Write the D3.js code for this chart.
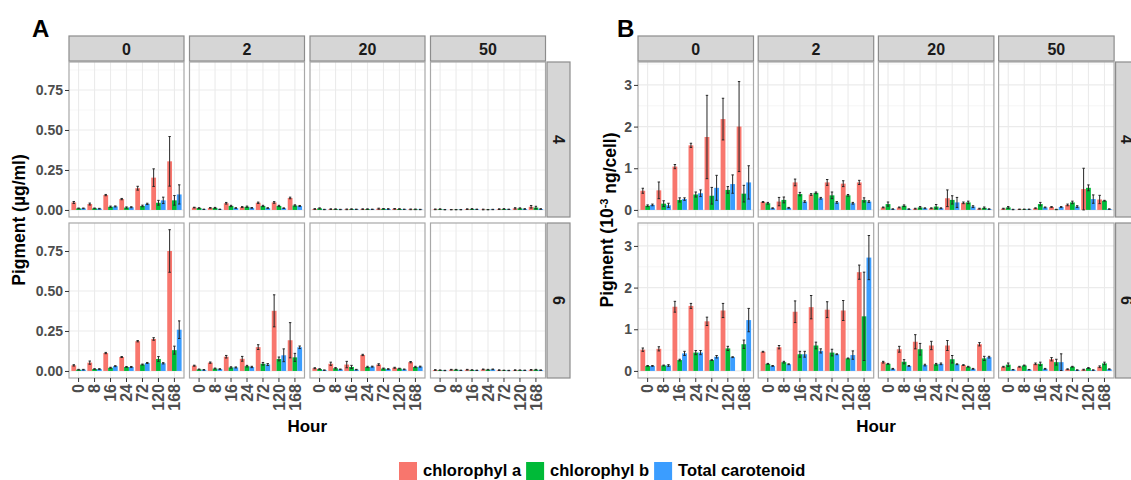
<!DOCTYPE html>
<html>
<head>
<meta charset="utf-8">
<script src="https://cdn.jsdelivr.net/npm/d3@7"></script>
<style>
  body { margin: 0; background: #fff; }
  svg { font-family: "Liberation Sans", Arial, sans-serif; }
</style>
</head>
<body>
<svg id="chart" width="1131" height="480"></svg>
<script>
// categories
const hours = ["0", "8", "16", "24", "72", "120", "168"];
const doses = ["0", "2", "20", "50"];
const rowLabels = ["4", "6"];
const pigments = ["chlorophyl a", "chlorophyl b", "Total carotenoid"];
const pigmentColors = ["#F8766D", "#00BA38", "#3B9DFF"];

// tick labels
const ticksA = [0, 0.25, 0.5, 0.75];
const ticksB = [0, 1, 2, 3];

// Panel A (ug/ml): one inner array per dose column, one value per hour
const aChlA_4 = [
  [0.047, 0.037, 0.093, 0.068, 0.136, 0.202, 0.304],
  [0.015, 0.013, 0.042, 0.018, 0.045, 0.047, 0.075],
  [0.006, 0.005, 0.004, 0.005, 0.008, 0.007, 0.004],
  [0.004, 0.002, 0.005, 0.003, 0.005, 0.010, 0.020]];
const aChlAErr_4 = [
  [0.006, 0.006, 0.004, 0.004, 0.012, 0.055, 0.155],
  [0.002, 0.002, 0.005, 0.003, 0.004, 0.005, 0.005],
  [0.002, 0.002, 0.002, 0.002, 0.003, 0.002, 0.002],
  [0.002, 0.001, 0.002, 0.002, 0.002, 0.004, 0.008]];
const aChlB_4 = [
  [0.010, 0.010, 0.020, 0.015, 0.025, 0.045, 0.060],
  [0.012, 0.013, 0.025, 0.020, 0.025, 0.025, 0.028],
  [0.010, 0.005, 0.005, 0.005, 0.007, 0.006, 0.004],
  [0.005, 0.002, 0.006, 0.002, 0.006, 0.010, 0.015]];
const aChlBErr_4 = [
  [0.002, 0.002, 0.004, 0.004, 0.005, 0.015, 0.030],
  [0.002, 0.003, 0.004, 0.004, 0.004, 0.004, 0.004],
  [0.003, 0.002, 0.002, 0.002, 0.002, 0.002, 0.002],
  [0.002, 0.001, 0.002, 0.001, 0.002, 0.003, 0.008]];
const aCar_4 = [
  [0.010, 0.008, 0.022, 0.017, 0.038, 0.060, 0.097],
  [0.004, 0.004, 0.012, 0.013, 0.012, 0.011, 0.025],
  [0.003, 0.003, 0.004, 0.004, 0.006, 0.004, 0.003],
  [0.002, 0.002, 0.004, 0.003, 0.004, 0.006, 0.006]];
const aCarErr_4 = [
  [0.002, 0.002, 0.003, 0.003, 0.004, 0.020, 0.060],
  [0.001, 0.001, 0.002, 0.002, 0.002, 0.002, 0.003],
  [0.001, 0.001, 0.001, 0.001, 0.002, 0.001, 0.001],
  [0.001, 0.001, 0.001, 0.001, 0.001, 0.002, 0.002]];

const aChlA_6 = [
  [0.035, 0.052, 0.112, 0.087, 0.186, 0.200, 0.750],
  [0.033, 0.052, 0.089, 0.076, 0.149, 0.376, 0.192],
  [0.017, 0.045, 0.040, 0.100, 0.040, 0.020, 0.055],
  [0.006, 0.008, 0.008, 0.010, 0.005, 0.005, 0.007]];
const aChlAErr_6 = [
  [0.004, 0.010, 0.004, 0.003, 0.004, 0.008, 0.133],
  [0.003, 0.004, 0.008, 0.015, 0.015, 0.100, 0.110],
  [0.003, 0.010, 0.020, 0.004, 0.005, 0.003, 0.004],
  [0.002, 0.002, 0.002, 0.002, 0.002, 0.002, 0.002]];
const aChlB_6 = [
  [0.008, 0.012, 0.020, 0.025, 0.040, 0.075, 0.130],
  [0.010, 0.015, 0.022, 0.030, 0.045, 0.075, 0.085],
  [0.012, 0.017, 0.025, 0.025, 0.015, 0.015, 0.025],
  [0.005, 0.008, 0.006, 0.008, 0.004, 0.005, 0.008]];
const aChlBErr_6 = [
  [0.002, 0.002, 0.003, 0.003, 0.003, 0.015, 0.025],
  [0.002, 0.003, 0.004, 0.005, 0.008, 0.012, 0.025],
  [0.002, 0.004, 0.010, 0.004, 0.003, 0.002, 0.004],
  [0.001, 0.002, 0.001, 0.002, 0.001, 0.001, 0.002]];
const aCar_6 = [
  [0.008, 0.012, 0.030, 0.025, 0.050, 0.048, 0.258],
  [0.007, 0.012, 0.022, 0.025, 0.040, 0.098, 0.148],
  [0.005, 0.010, 0.008, 0.027, 0.012, 0.010, 0.027],
  [0.003, 0.004, 0.004, 0.010, 0.003, 0.004, 0.005]];
const aCarErr_6 = [
  [0.002, 0.002, 0.003, 0.003, 0.003, 0.004, 0.055],
  [0.002, 0.002, 0.003, 0.004, 0.006, 0.040, 0.008],
  [0.001, 0.002, 0.002, 0.003, 0.002, 0.002, 0.003],
  [0.001, 0.001, 0.001, 0.002, 0.001, 0.001, 0.001]];

// Panel B (10^-3 ng/cell)
const bChlA_4 = [
  [0.46, 0.47, 1.04, 1.55, 1.75, 2.18, 2.00],
  [0.19, 0.20, 0.66, 0.37, 0.66, 0.63, 0.66],
  [0.06, 0.06, 0.03, 0.04, 0.28, 0.17, 0.03],
  [0.03, 0.015, 0.04, 0.07, 0.12, 0.50, 0.25]];
const bChlAErr_4 = [
  [0.06, 0.20, 0.05, 0.05, 1.00, 0.50, 1.08],
  [0.01, 0.10, 0.08, 0.02, 0.07, 0.07, 0.05],
  [0.01, 0.01, 0.01, 0.01, 0.20, 0.02, 0.01],
  [0.01, 0.005, 0.01, 0.01, 0.02, 0.50, 0.10]];
const bChlB_4 = [
  [0.10, 0.15, 0.24, 0.37, 0.34, 0.48, 0.39],
  [0.16, 0.24, 0.38, 0.41, 0.35, 0.35, 0.24],
  [0.14, 0.10, 0.06, 0.08, 0.24, 0.18, 0.05],
  [0.06, 0.015, 0.14, 0.01, 0.18, 0.53, 0.22]];
const bChlBErr_4 = [
  [0.02, 0.07, 0.05, 0.06, 0.20, 0.08, 0.20],
  [0.02, 0.07, 0.04, 0.02, 0.08, 0.02, 0.05],
  [0.05, 0.02, 0.02, 0.05, 0.10, 0.03, 0.02],
  [0.02, 0.005, 0.04, 0.005, 0.03, 0.07, 0.01]];
const bCar_4 = [
  [0.12, 0.11, 0.26, 0.40, 0.53, 0.62, 0.66],
  [0.04, 0.05, 0.20, 0.28, 0.18, 0.16, 0.20],
  [0.02, 0.02, 0.04, 0.04, 0.18, 0.08, 0.02],
  [0.01, 0.015, 0.06, 0.07, 0.08, 0.26, 0.02]];
const bCarErr_4 = [
  [0.02, 0.05, 0.03, 0.08, 0.30, 0.22, 0.40],
  [0.01, 0.01, 0.02, 0.02, 0.02, 0.02, 0.02],
  [0.005, 0.005, 0.01, 0.01, 0.12, 0.02, 0.005],
  [0.005, 0.005, 0.01, 0.01, 0.02, 0.10, 0.005]];

const bChlA_6 = [
  [0.51, 0.53, 1.54, 1.56, 1.19, 1.45, null],
  [0.46, 0.57, 1.42, 1.53, 1.47, 1.45, 2.37],
  [0.21, 0.52, 0.70, 0.61, 0.61, 0.14, 0.64],
  [0.10, 0.10, 0.17, 0.28, 0.04, 0.03, 0.10]];
const bChlAErr_6 = [
  [0.04, 0.05, 0.13, 0.06, 0.10, 0.17, null],
  [0.01, 0.04, 0.26, 0.28, 0.19, 0.24, 0.17],
  [0.02, 0.07, 0.17, 0.10, 0.12, 0.01, 0.04],
  [0.01, 0.01, 0.02, 0.04, 0.01, 0.01, 0.02]];
const bChlB_6 = [
  [0.12, 0.13, 0.26, 0.44, 0.26, 0.54, 0.64],
  [0.17, 0.21, 0.40, 0.61, 0.44, 0.30, 1.31],
  [0.17, 0.22, 0.52, 0.16, 0.28, 0.10, 0.30],
  [0.15, 0.13, 0.17, 0.21, 0.10, 0.07, 0.18]];
const bChlBErr_6 = [
  [0.01, 0.01, 0.02, 0.05, 0.01, 0.05, 0.10],
  [0.01, 0.02, 0.07, 0.08, 0.08, 0.01, 1.06],
  [0.01, 0.05, 0.14, 0.02, 0.09, 0.01, 0.05],
  [0.04, 0.01, 0.04, 0.07, 0.01, 0.01, 0.03]];
const bCar_6 = [
  [0.12, 0.13, 0.42, 0.44, 0.34, 0.33, 1.22],
  [0.12, 0.16, 0.40, 0.48, 0.40, 0.38, 2.72],
  [0.05, 0.12, 0.14, 0.17, 0.16, 0.05, 0.33],
  [0.03, 0.03, 0.05, 0.21, 0.02, 0.02, 0.04]];
const bCarErr_6 = [
  [0.01, 0.02, 0.05, 0.05, 0.03, 0.01, 0.28],
  [0.01, 0.01, 0.07, 0.05, 0.01, 0.10, 0.53],
  [0.01, 0.01, 0.02, 0.02, 0.01, 0.01, 0.02],
  [0.005, 0.005, 0.01, 0.20, 0.005, 0.005, 0.01]];

var svg = d3.select("#chart");

// shared layout
var rowTop = 62, rowH = 155, rowGap = 6;
var stripTop = 36, stripH = 25, sideStripW = 23;
var tickGray = "#4D4D4D";

// turn the arrays of one row into flat records
function records(vals, errs) {
  var out = [];
  doses.forEach(function(dose, c) {
    hours.forEach(function(h, i) {
      pigments.forEach(function(p, k) {
        var v = vals[k][c][i];
        if (v == null) return;
        out.push({dose: dose, hour: h, pigment: p, k: k, v: v, e: errs[k][c][i]});
      });
    });
  });
  return out;
}

function drawPanel(cfg) {
  var g = svg.append("g");

  // panel letter
  g.append("text").attr("x", cfg.letterX).attr("y", 37)
    .style("font-size", "24px").style("font-weight", "bold").text(cfg.letter);

  var colX = d3.scaleBand().domain(doses)
    .range([cfg.left, cfg.left + 4 * cfg.colW + 3 * cfg.gap])
    .paddingInner(cfg.gap / (cfg.colW + cfg.gap));

  cfg.rows.forEach(function(row, r) {
    var top = rowTop + r * (rowH + rowGap);
    var y = d3.scaleLinear().domain(cfg.yDomain).range([top + rowH, top]);
    var minorY = d3.range(cfg.ticks.length).map(function(i) { return cfg.ticks[i] + cfg.tickStep / 2; })
      .filter(function(t) { return t < cfg.yDomain[1]; });
    var data = records(row.vals, row.errs);

    doses.forEach(function(dose, c) {
      var x0 = colX(dose);
      var x = d3.scaleBand().domain(hours).range([x0, x0 + colX.bandwidth()])
        .paddingInner(0).paddingOuter(0.1);
      var xSub = d3.scaleBand().domain(pigments)
        .range([x.bandwidth() * 0.05, x.bandwidth() * 0.95]);
      var f = g.append("g");

      f.append("rect").attr("x", x0).attr("y", top).attr("width", colX.bandwidth()).attr("height", rowH)
        .attr("fill", "#fff");

      // grid
      f.selectAll(".ymin").data(minorY).enter().append("line")
        .attr("x1", x0).attr("x2", x0 + colX.bandwidth())
        .attr("y1", function(d) { return y(d); }).attr("y2", function(d) { return y(d); })
        .attr("stroke", "#F2F2F2").attr("stroke-width", 0.7);
      f.selectAll(".ymaj").data(cfg.ticks).enter().append("line")
        .attr("x1", x0).attr("x2", x0 + colX.bandwidth())
        .attr("y1", function(d) { return y(d); }).attr("y2", function(d) { return y(d); })
        .attr("stroke", "#EBEBEB").attr("stroke-width", 1.1);
      f.selectAll(".xmaj").data(hours).enter().append("line")
        .attr("x1", function(d) { return x(d) + x.bandwidth() / 2; })
        .attr("x2", function(d) { return x(d) + x.bandwidth() / 2; })
        .attr("y1", top).attr("y2", top + rowH)
        .attr("stroke", "#EBEBEB").attr("stroke-width", 1.1);

      var fd = data.filter(function(d) { return d.dose === dose; });

      // bars
      f.selectAll(".bar").data(fd).enter().append("rect")
        .attr("x", function(d) { return x(d.hour) + xSub(d.pigment); })
        .attr("width", xSub.bandwidth())
        .attr("y", function(d) { return y(d.v); })
        .attr("height", function(d) { return y(0) - y(d.v); })
        .attr("fill", function(d) { return pigmentColors[d.k]; });

      // error bars
      var eb = f.selectAll(".err").data(fd).enter().append("g")
        .attr("stroke", "#262626").attr("stroke-width", 1);
      function cx(d) { return x(d.hour) + xSub(d.pigment) + xSub.bandwidth() / 2; }
      eb.append("line")
        .attr("x1", cx).attr("x2", cx)
        .attr("y1", function(d) { return y(Math.max(0, d.v - d.e)); })
        .attr("y2", function(d) { return y(d.v + d.e); });
      eb.append("line")
        .attr("x1", function(d) { return cx(d) - 1.2; }).attr("x2", function(d) { return cx(d) + 1.2; })
        .attr("y1", function(d) { return y(d.v + d.e); }).attr("y2", function(d) { return y(d.v + d.e); });
      eb.append("line")
        .attr("x1", function(d) { return cx(d) - 1.2; }).attr("x2", function(d) { return cx(d) + 1.2; })
        .attr("y1", function(d) { return y(Math.max(0, d.v - d.e)); })
        .attr("y2", function(d) { return y(Math.max(0, d.v - d.e)); });

      f.append("rect").attr("x", x0).attr("y", top).attr("width", colX.bandwidth()).attr("height", rowH)
        .attr("fill", "none").attr("stroke", "#A8A8A8").attr("stroke-width", 1.2);

      // top strips
      if (r === 0) {
        g.append("rect").attr("x", x0).attr("y", stripTop).attr("width", colX.bandwidth()).attr("height", stripH)
          .attr("fill", "#D6D6D6").attr("stroke", "#8C8C8C").attr("stroke-width", 1.2);
        g.append("text").attr("x", x0 + colX.bandwidth() / 2).attr("y", stripTop + stripH / 2 + 6)
          .attr("text-anchor", "middle").style("font-size", "16px").style("font-weight", "bold")
          .attr("fill", "#1A1A1A").text(dose);
      }

      // x axis under the bottom row
      if (r === cfg.rows.length - 1) {
        var ax = g.append("g").attr("transform", "translate(0," + (top + rowH) + ")")
          .call(d3.axisBottom(x).tickSize(4).tickPadding(2));
        ax.select(".domain").remove();
        ax.selectAll("line").attr("stroke", "#333");
        ax.selectAll("text")
          .attr("transform", "rotate(-90)").attr("text-anchor", "end")
          .attr("x", -6).attr("y", 0).attr("dy", "0.36em")
          .attr("fill", tickGray).style("font-size", "16px").style("font-weight", "bold")
          .style("font-family", "Liberation Sans, Arial, sans-serif");
      }
    });

    // y axis
    var ay = g.append("g").attr("transform", "translate(" + cfg.left + ",0)")
      .call(d3.axisLeft(y).tickValues(cfg.ticks).tickSize(4).tickPadding(2).tickFormat(cfg.fmt));
    ay.select(".domain").remove();
    ay.selectAll("line").attr("stroke", "#333");
    ay.selectAll("text").attr("fill", tickGray).style("font-size", "14px").style("font-weight", "bold")
      .style("font-family", "Liberation Sans, Arial, sans-serif");

    // side strip
    var sx = colX.range()[1] + 1.5;
    g.append("rect").attr("x", sx).attr("y", top).attr("width", sideStripW).attr("height", rowH)
      .attr("fill", "#D6D6D6").attr("stroke", "#8C8C8C").attr("stroke-width", 1.2);
    g.append("text").attr("transform", "translate(" + (sx + sideStripW / 2) + "," + (top + rowH / 2) + ") rotate(90)")
      .attr("text-anchor", "middle").attr("dy", "0.36em")
      .style("font-size", "16px").style("font-weight", "bold").attr("fill", "#1A1A1A").text(rowLabels[r]);
  });

  // axis titles
  var mid = (colX.range()[0] + colX.range()[1]) / 2;
  g.append("text").attr("x", mid).attr("y", 432).attr("text-anchor", "middle")
    .style("font-size", "17px").style("font-weight", "bold").text("Hour");

  var yt = g.append("text")
    .attr("transform", "translate(" + cfg.titleX + "," + (rowTop + rowH + rowGap / 2) + ") rotate(-90)")
    .attr("text-anchor", "middle").style("font-size", "17.5px").style("font-weight", "bold");
  cfg.title(yt);
}

drawPanel({
  letter: "A", letterX: 32, left: 69, colW: 115, gap: 5.5, titleX: 25,
  yDomain: [-0.044, 0.925], ticks: ticksA, tickStep: 0.25, fmt: d3.format(".2f"),
  rows: [
    {vals: [aChlA_4, aChlB_4, aCar_4], errs: [aChlAErr_4, aChlBErr_4, aCarErr_4]},
    {vals: [aChlA_6, aChlB_6, aCar_6], errs: [aChlAErr_6, aChlBErr_6, aCarErr_6]}],
  title: function(t) { t.text("Pigment (\u00B5g/ml)"); }
});

drawPanel({
  letter: "B", letterX: 617, left: 638, colW: 115.5, gap: 4.7, titleX: 613,
  yDomain: [-0.17, 3.55], ticks: ticksB, tickStep: 1, fmt: d3.format("d"),
  rows: [
    {vals: [bChlA_4, bChlB_4, bCar_4], errs: [bChlAErr_4, bChlBErr_4, bCarErr_4]},
    {vals: [bChlA_6, bChlB_6, bCar_6], errs: [bChlAErr_6, bChlBErr_6, bCarErr_6]}],
  title: function(t) {
    t.append("tspan").text("Pigment (10");
    t.append("tspan").attr("dy", "-0.45em").style("font-size", "11px").text("-3");
    t.append("tspan").attr("dy", "0.45em").text(" ng/cell)");
  }
});

// legend
var lx = 399;
pigments.forEach(function(p, k) {
  svg.append("rect").attr("x", lx).attr("y", 462).attr("width", 18).attr("height", 18)
    .attr("fill", pigmentColors[k]);
  var t = svg.append("text").attr("x", lx + 24).attr("y", 476)
    .style("font-size", "16.5px").style("font-weight", "bold").text(p);
  lx += 24 + t.node().getComputedTextLength() + 5;
});
</script>
</body>
</html>
